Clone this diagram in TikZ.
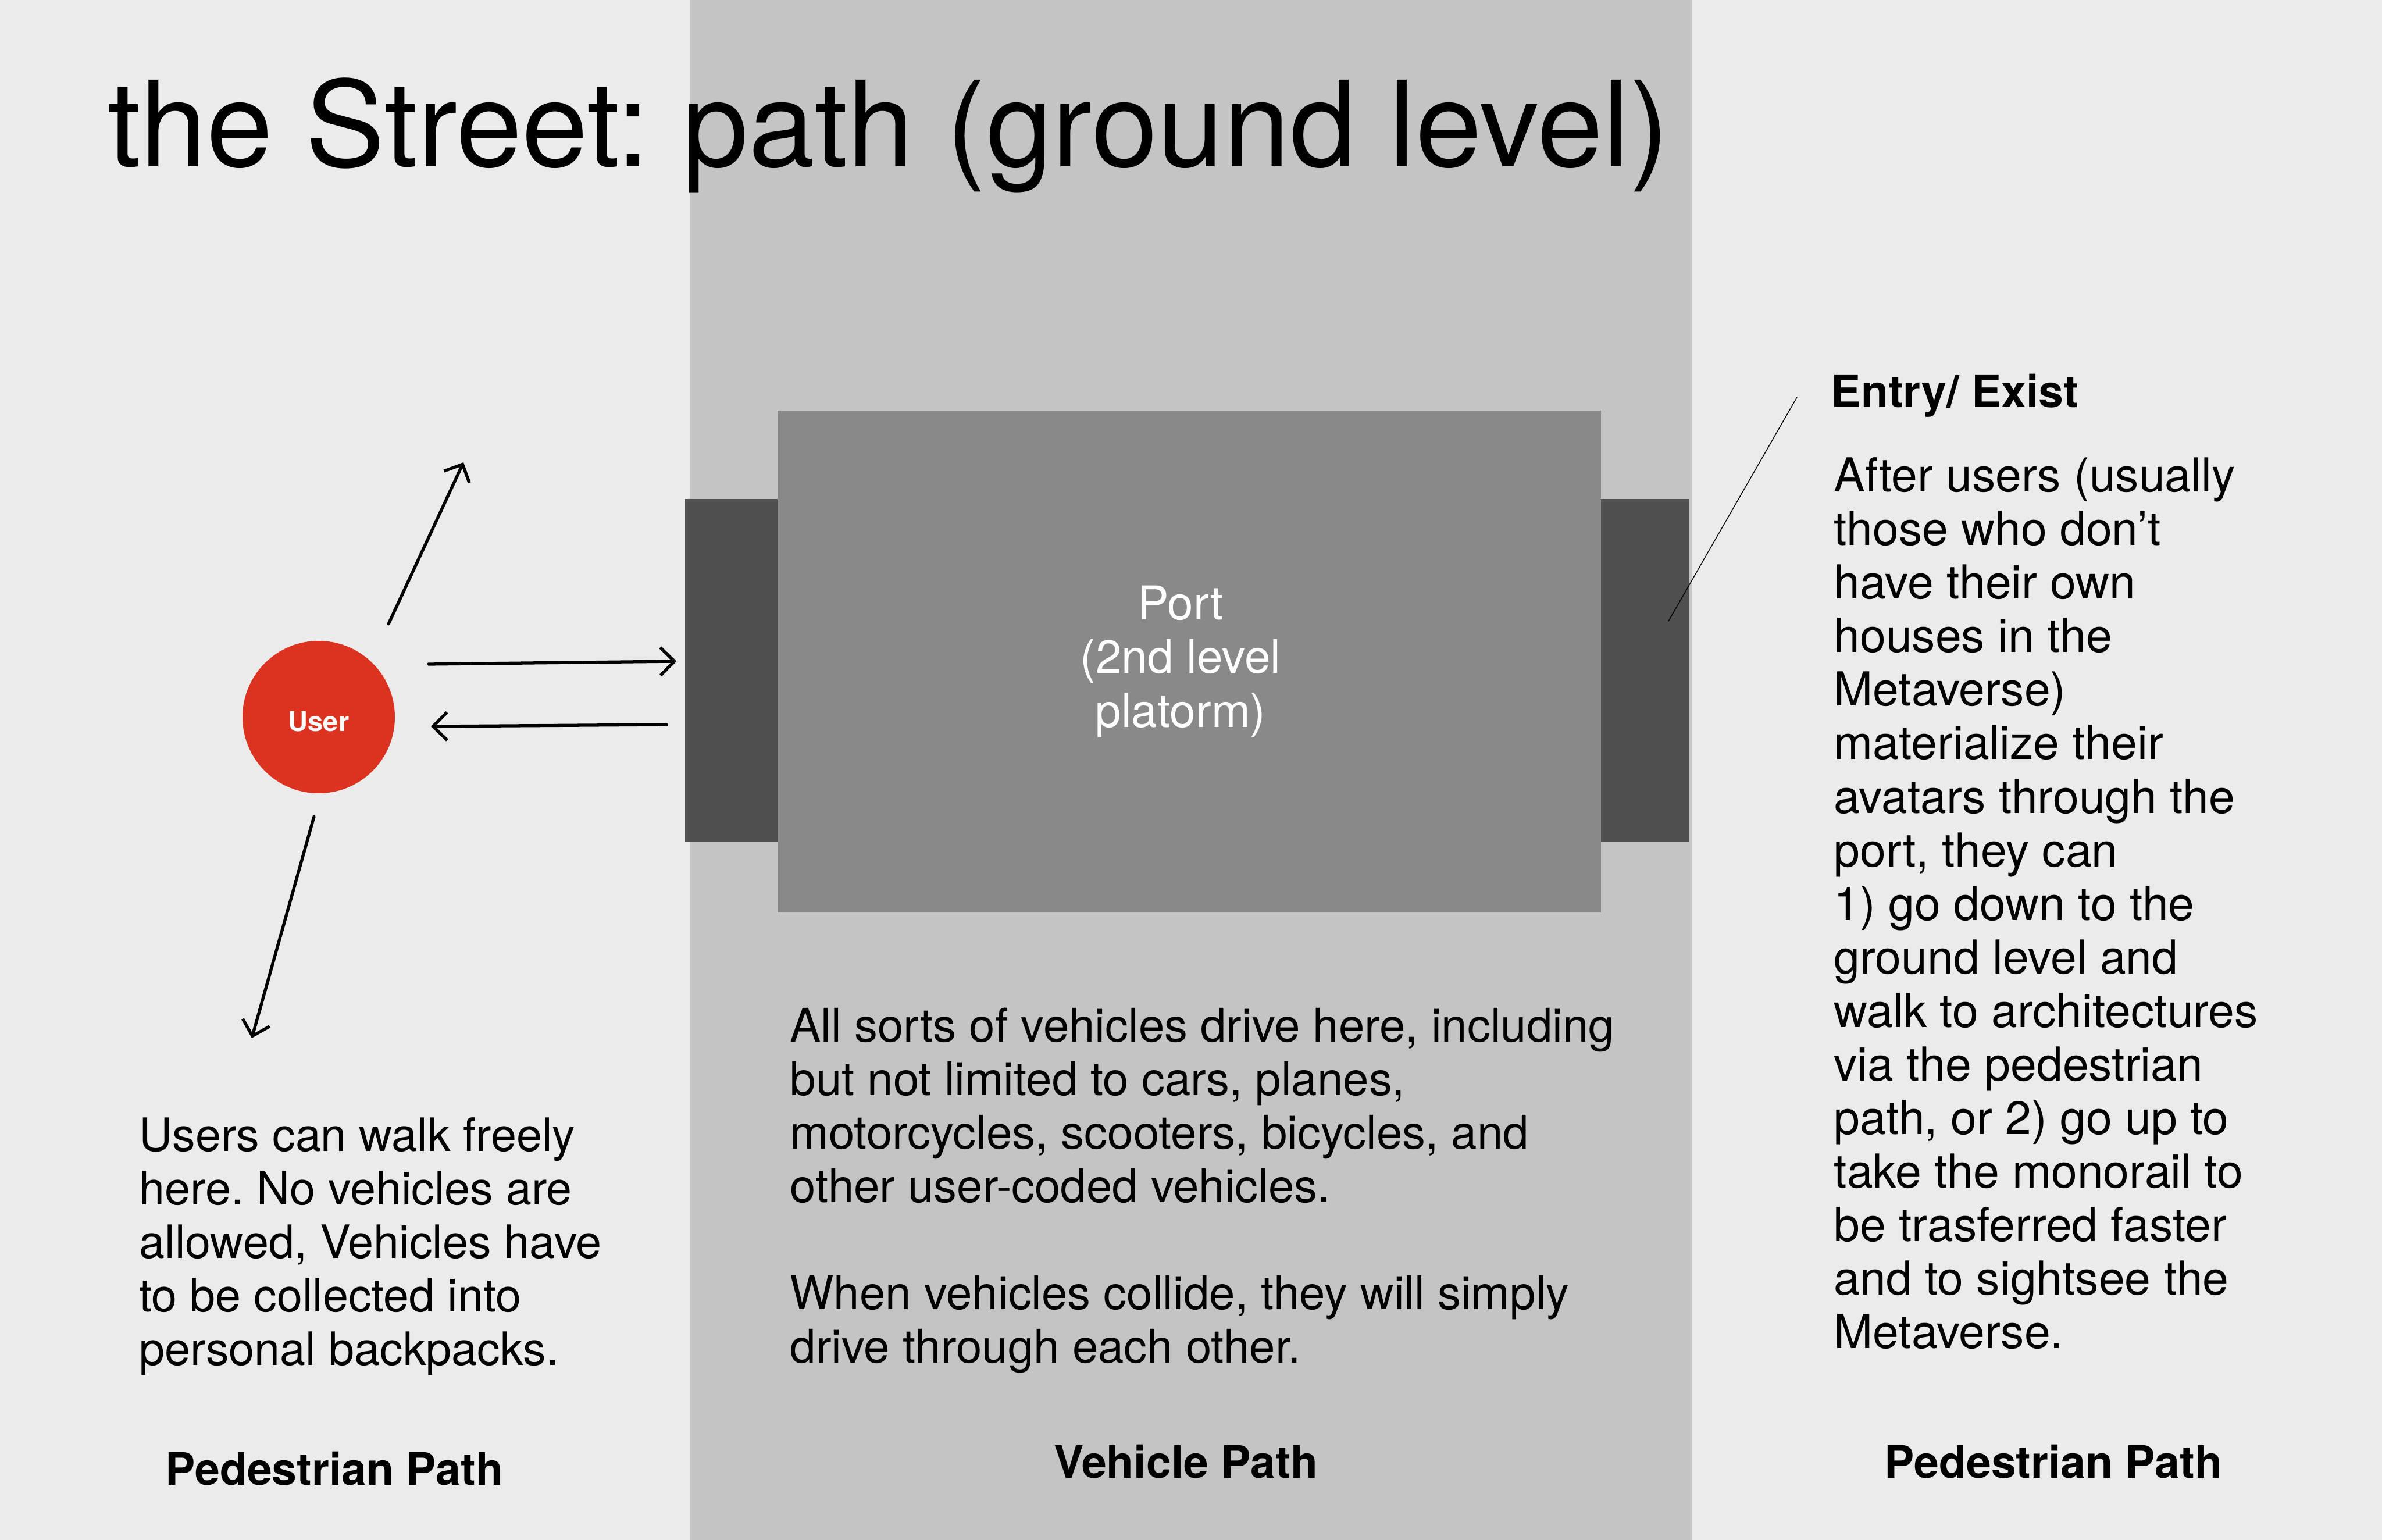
\documentclass[tikz,border=0pt]{standalone}
\usepackage{fontspec}
\setmainfont{TeX Gyre Heros}
\usetikzlibrary{arrows.meta, positioning, calc}
\definecolor{walkgray}{HTML}{EBEBEB}
\definecolor{roadgray}{HTML}{C4C4C4}
\definecolor{portgray}{HTML}{898989}
\definecolor{dockgray}{HTML}{4F4F4F}
\definecolor{userred}{HTML}{DC3320}
\frenchspacing

\begin{document}
\begin{tikzpicture}[>={Straight Barb[length=2.4mm, width=4.8mm]}, line width=1.5pt,
  titletext/.style={font=\fontsize{58.2}{68}\selectfont, inner sep=0pt},
  bodytext/.style={font=\fontsize{#1}{26.2}\selectfont, align=left, inner sep=0pt, anchor=north west},
  pathlabel/.style={font=\fontsize{21.9}{26.2}\selectfont\bfseries, inner sep=0pt, anchor=base},
  dockbox/.style={fill=dockgray, minimum height=5.90cm, inner sep=0pt},
  portbox/.style={fill=portgray, minimum width=14.16cm, minimum height=8.63cm, inner sep=0pt},
  portlabel/.style={font=\fontsize{22.8}{26.2}\selectfont, text=white, align=center, inner sep=0pt},
  userdot/.style={circle, fill=userred, minimum size=2.62cm, inner sep=0pt,
                  font=\fontsize{13.4}{16}\selectfont\bfseries, text=white,
                  text height=14.2pt, text depth=0pt},
  walk/.style={->, line cap=round, black}
]

% Background
\fill[walkgray] (0,0) rectangle (40.96,-26.48);
\fill[roadgray] (11.86,0) rectangle (29.10,-26.48);
\useasboundingbox (0,0) rectangle (40.96,-26.48);

% Title
\node[titletext, anchor=base west] (title) at (1.83,-2.87) {the Street: path (ground level)};

% Port with its two docks
\node[dockbox, minimum width=1.59cm] (leftdock) at (12.575,-11.53) {};
\node[dockbox, minimum width=1.51cm] (rightdock) at (28.285,-11.53) {};
\node[portbox] (port) at (20.45,-11.375) {};
\node[portlabel] (portname) at ([xshift=-0.15cm]port.center) {Port\\(2nd level\\platorm)};

% User and walking directions
\node[userdot] (user) at (5.48,-12.33) {User};
\coordinate (upend) at (7.97,-7.95);
\coordinate (downend) at (4.33,-17.85);
\draw[walk] ([shift={(1.20,1.60)}]user.center) -- (upend);
\draw[walk] ([shift={(1.89,0.91)}]user.center) -- ([shift={(-0.12,0.16)}]leftdock.west);
\draw[walk] ([shift={(-0.29,-0.93)}]leftdock.west) -- ([shift={(1.93,-0.16)}]user.center);
\draw[walk] ([shift={(-0.08,-1.71)}]user.center) -- (downend);

% Entry / exit note
\node[pathlabel, anchor=base west] (entry) at (31.46,-7.01) {Entry/ Exist};
\draw[line width=0.4pt] ([shift={(-0.56,0.18)}]entry.base west) -- ([shift={(0.405,0.85)}]rightdock.center);
\node[bodytext=22.9] (entrytext) at (31.51,-7.84) {After users (usually\\those who don’t\\have their own\\houses in the\\Metaverse)\\materialize their\\avatars through the\\port, they can\\1) go down to the\\ground level and\\walk to architectures\\via the pedestrian\\path, or 2) go up to\\take the monorail to\\be trasferred faster\\and to sightsee the\\Metaverse.};

% Descriptions
\node[bodytext=22.5] (walktext) at (2.37,-19.19) {Users can walk freely\\here. No vehicles are\\allowed, Vehicles have\\to be collected into\\personal backpacks.};
\node[bodytext=22.7] (roadtext) at (13.56,-17.30) {All sorts of vehicles drive here, including\\but not limited to cars, planes,\\motorcycles, scooters, bicycles, and\\other user-coded vehicles.\\[26.2pt]When vehicles collide, they will simply\\drive through each other.};

% Path names
\node[pathlabel] (leftpath) at (5.75,-25.53) {Pedestrian Path};
\node[pathlabel] (roadpath) at (20.39,-25.41) {Vehicle Path};
\node[pathlabel] (rightpath) at (35.31,-25.41) {Pedestrian Path};

\end{tikzpicture}
\end{document}
